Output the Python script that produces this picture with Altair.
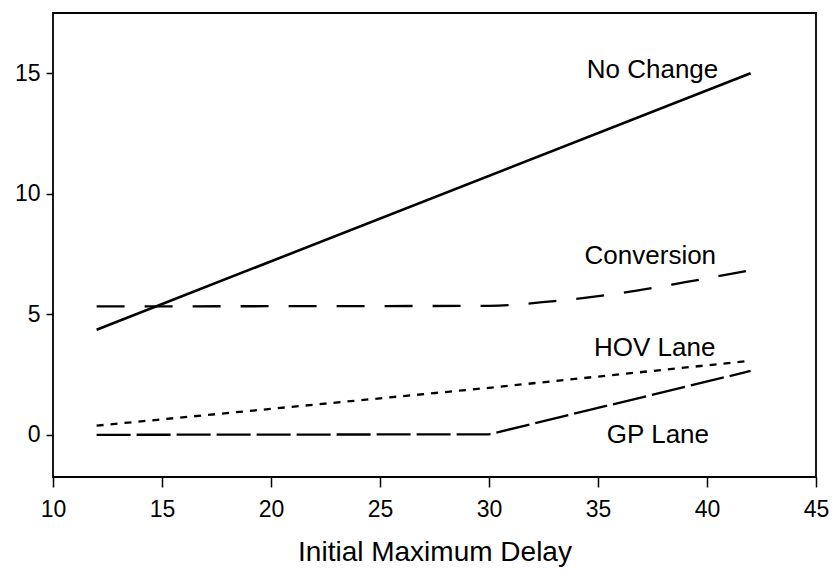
import altair as alt
import pandas as pd

# ---- data ----
no_change_x = [12, 42]
no_change_y = [4.36, 15.0]

conversion_x = [12, 30, 33, 36, 39, 42]
conversion_y = [5.33, 5.35, 5.55, 5.87, 6.33, 6.83]

hov_x = [12, 30, 42]
hov_y = [0.38, 1.95, 3.07]

gp_x = [12, 30, 42]
gp_y = [0.0, 0.02, 2.65]

label_text = ["No Change", "Conversion", "HOV Lane", "GP Lane"]
label_x = [37.5, 37.4, 37.6, 37.75]
label_y = [14.82, 7.08, 3.28, -0.33]

x_ticks = [10, 15, 20, 25, 30, 35, 40, 45]
y_ticks = [0, 5, 10, 15]

FONT = "Liberation Sans"

x_scale = alt.Scale(domain=[10, 45], nice=False, zero=False)
y_scale = alt.Scale(domain=[-1.75, 17.5], nice=False, zero=False)

x_axis = alt.Axis(values=x_ticks, title="Initial Maximum Delay", grid=False,
                  domain=False, tickSize=10, tickWidth=1.5, tickColor="black",
                  labelFontSize=23, labelFont=FONT, labelColor="black",
                  labelPadding=11, titleFontSize=28, titleFont=FONT,
                  titleFontWeight="normal", titleColor="black", titlePadding=17,
                  labelFlush=False)
y_axis = alt.Axis(values=y_ticks, title=None, grid=False, domain=False,
                  tickSize=7, tickWidth=1.5, tickColor="black",
                  labelFontSize=23, labelFont=FONT, labelColor="black",
                  labelPadding=6, labelFlush=False)

X = alt.X("x:Q", scale=x_scale, axis=x_axis)
Y = alt.Y("y:Q", scale=y_scale, axis=y_axis)


def line_layer(xs, ys, dash, interp="linear", width=2.3):
    df = pd.DataFrame({"x": xs, "y": ys})
    kw = dict(color="black", strokeWidth=width, interpolate=interp)
    if dash:
        kw["strokeDash"] = dash
    return alt.Chart(df).mark_line(**kw).encode(x=X, y=Y)


l1 = line_layer(no_change_x, no_change_y, None, width=2.6)
l2 = line_layer(conversion_x, conversion_y, [28, 20], interp="monotone")
l3 = line_layer(hov_x, hov_y, [7, 7])
l4 = line_layer(gp_x, gp_y, [34, 6])

labels_df = pd.DataFrame({"t": label_text, "x": label_x, "y": label_y})
labels = alt.Chart(labels_df).mark_text(
    align="center", baseline="alphabetic", fontSize=26, font=FONT, color="black"
).encode(x=X, y=Y, text="t:N")

chart = alt.layer(l1, l2, l3, l4, labels).properties(
    width=763,
    height=464,
    autosize=alt.AutoSizeParams(type="none"),
    padding={"left": 53, "top": 13, "right": 24, "bottom": 99},
    background="white",
).configure_view(
    stroke="black", strokeWidth=1.8
)

chart.save("out.html", embed_options={"renderer": "svg", "actions": False})
